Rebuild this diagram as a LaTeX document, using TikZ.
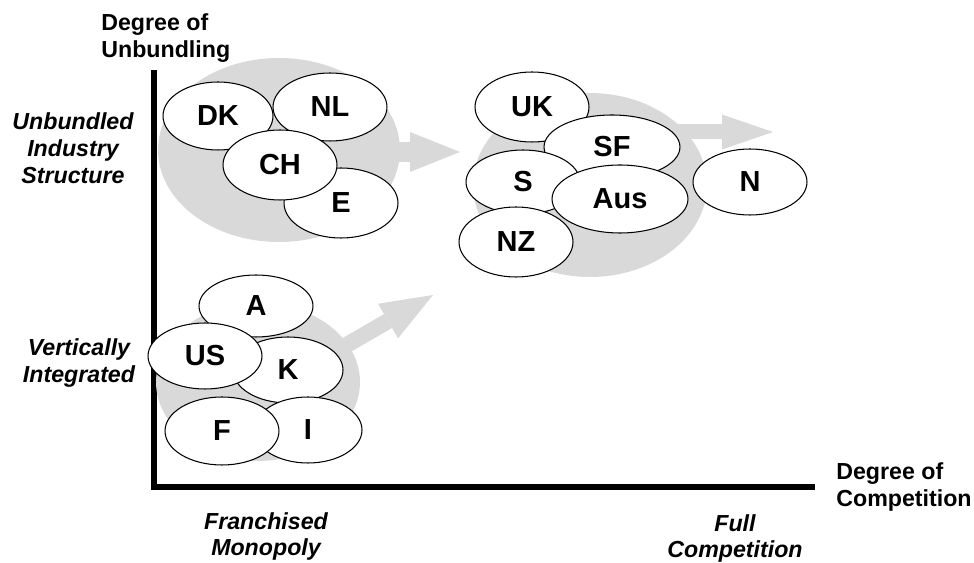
\documentclass[tikz,border=0pt]{standalone}
\usepackage{fontspec}
\setmainfont{Liberation Sans}
\usetikzlibrary{arrows.meta,shapes.geometric}
\definecolor{blobGrey}{RGB}{217,217,217}

\begin{document}
\begin{tikzpicture}[
  x=0.02cm, y=-0.02cm,
  land/.style={
    ellipse,
    draw=black,
    fill=white,
    inner sep=0pt,
    minimum width=2.28cm,
    minimum height=1.36cm,
    line width=0.6pt,
    font=\fontsize{16.5}{19}\selectfont\bfseries,
  },
  wide/.style={minimum width=2.72cm, minimum height=1.32cm},
  blob/.style={ellipse, fill=blobGrey, inner sep=0pt},
  flow/.style={blobGrey, line width=#1},
  axislab/.style={
    inner sep=0pt,
    align=left,
    font=\fontsize{13.2}{15.6}\selectfont\bfseries,
  },
  zonelab/.style={
    inner sep=0pt,
    align=center,
    font=\fontsize{13.2}{15.5}\selectfont\bfseries\itshape,
  },
  tight/.style={font=\fontsize{13.2}{14.8}\selectfont\bfseries\itshape},
]
  \useasboundingbox (0,0) rectangle (974,563);

  % axes
  \coordinate (yTop) at (154,70);
  \coordinate (origin) at (154,487);
  \coordinate (xEnd) at (815,487);
  \draw[line width=0.11cm] (yTop) -- (origin) -- (xEnd);

  % grey groups and their moves
  \node[blob, minimum width=4.84cm, minimum height=3.68cm] (blobTop) at (279,150) {};
  \node[blob, minimum width=4.68cm, minimum height=3.68cm] (blobRight) at (590,185) {};
  \node[blob, minimum width=4.08cm, minimum height=3.16cm] (blobLow) at (258,382) {};

  \coordinate (tipTop) at (460,152);
  \coordinate (tipRight) at (773,132);
  \coordinate (tipLow) at (433,295);
  \coordinate (tailLow) at (262,394);

  \draw[flow=0.4cm, -{Triangle[width=0.8cm, length=1cm, line width=0pt]}]
    (blobTop.center |- tipTop) -- (tipTop);
  \draw[flow=0.3cm, -{Triangle[width=0.7cm, length=1.02cm, line width=0pt]}]
    (blobRight.center |- tipRight) -- (tipRight);
  \draw[flow=0.32cm, -{Triangle[width=0.8cm, length=1.04cm, line width=0pt]}]
    (tailLow) -- (tipLow);

  % unbundled
  \node[land, minimum height=1.4cm] (E) at (341,203) {E};
  \node[land, minimum width=2.2cm] (DK) at (218,116) {DK};
  \node[land] (NL) at (330,107) {NL};
  \node[land, minimum height=1.4cm] (CH) at (280,165) {CH};

  % competition
  \node[land, minimum height=1.4cm] (UK) at (532,107) {UK};
  \node[land, wide, minimum height=1.28cm] (SF) at (612,147) {SF};
  \node[land, minimum height=1.28cm] (S) at (523,182) {S};
  \node[land, minimum height=1.4cm] (NZ) at (516,242) {NZ};
  \node[land, wide, minimum height=1.36cm] (Aus) at (620,199) {Aus};
  \node[land, minimum height=1.32cm] (N) at (750,182) {N};

  % integrated
  \node[land, minimum height=1.24cm] (A) at (256,306) {A};
  \node[land, minimum width=2.2cm, minimum height=1.32cm] (K) at (288,370) {K};
  \node[land, minimum height=1.32cm] (US) at (205,356) {US};
  \node[land, minimum width=2.16cm, minimum height=1.32cm] (I) at (308,430) {I};
  \node[land] (F) at (222,431) {F};

  % labels
  \node[axislab, anchor=north west] (yLabel) at (101,13) {Degree of\\Unbundling};
  \node[axislab, anchor=north west] (xLabel) at (836,462) {Degree of\\Competition};
  \node[zonelab, anchor=north] (unbundled) at (73,112) {Unbundled\\Industry\\Structure};
  \node[zonelab, anchor=north] (vertical) at (79,338) {Vertically\\Integrated};
  \node[zonelab, tight, anchor=north] (franchised) at (266,512) {Franchised\\Monopoly};
  \node[zonelab, tight, anchor=north] (fullComp) at (735,514) {Full\\Competition};

\end{tikzpicture}
\end{document}
